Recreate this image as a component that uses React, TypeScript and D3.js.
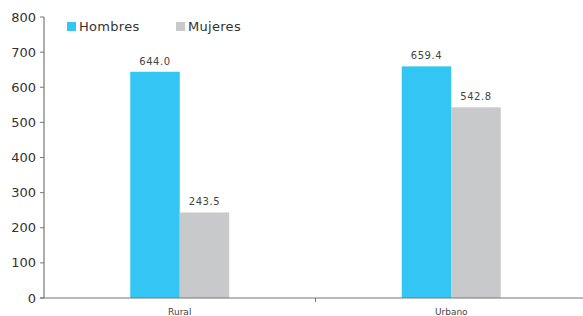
import React from 'react';
import * as d3 from 'd3';

const categories = ['Rural', 'Urbano'];
const series = ['Hombres', 'Mujeres'];
const hombres = [644.0, 659.4];
const mujeres = [243.5, 542.8];
const yTicks = [0, 100, 200, 300, 400, 500, 600, 700, 800];
const colors = ['#33C5F3', '#C8C9CB'];

const width = 583;
const height = 316;
const left = 44;
const right = 587;
const top = 17;
const bottom = 298;

const x = d3.scaleBand().domain(categories).range([left, right]);
const y = d3.scaleLinear().domain([0, 800]).range([bottom, top]);
const barW = 49.5;
const font = 'DejaVu Sans, sans-serif';

const App = () => {
  const values = [hombres, mujeres];
  return (
    <svg width={width} height={height} style={{ position: 'absolute', left: 0, top: 0 }}>
      {categories.map((c, i) => {
        const cx = x(c)! + x.bandwidth() / 2;
        return series.map((s, j) => {
          const v = values[j][i];
          const bx = cx - barW + j * barW;
          return (
            <g key={c + s}>
              <rect x={bx} y={y(v)} width={barW} height={bottom - y(v)} fill={colors[j]} />
              <text x={bx + barW / 2} y={y(v) - 7} textAnchor="middle" fontSize={10}
                fontFamily={font} fill="#444" letterSpacing={0.6}>{v.toFixed(1)}</text>
            </g>
          );
        });
      })}
      {/* y axis */}
      <line x1={left} x2={left} y1={top} y2={bottom} stroke="#777" strokeWidth={1.2} />
      {yTicks.map(t => (
        <g key={t}>
          <line x1={left - 4} x2={left} y1={y(t)} y2={y(t)} stroke="#777" />
          <text x={36} y={y(t)} dy="0.35em" textAnchor="end" fontSize={13}
            fontFamily={font} fill="#333">{t}</text>
        </g>
      ))}
      {/* x axis */}
      <line x1={left - 4} x2={width} y1={bottom} y2={bottom} stroke="#777" strokeWidth={1.2} />
      <line x1={x('Urbano')!} x2={x('Urbano')!} y1={bottom} y2={bottom + 4} stroke="#777" />
      {categories.map(c => (
        <text key={c} x={x(c)! + x.bandwidth() / 2} y={315} textAnchor="middle" fontSize={9}
          fontFamily={font} fill="#444">{c}</text>
      ))}
      {/* legend */}
      {series.map((s, j) => (
        <g key={s} transform={`translate(${67 + j * 109},22)`}>
          <rect width={9} height={9} fill={colors[j]} />
          <text x={12} y={9} fontSize={13} fontFamily={font} fill="#333" letterSpacing={0.3}>{s}</text>
        </g>
      ))}
    </svg>
  );
};

export default App;
